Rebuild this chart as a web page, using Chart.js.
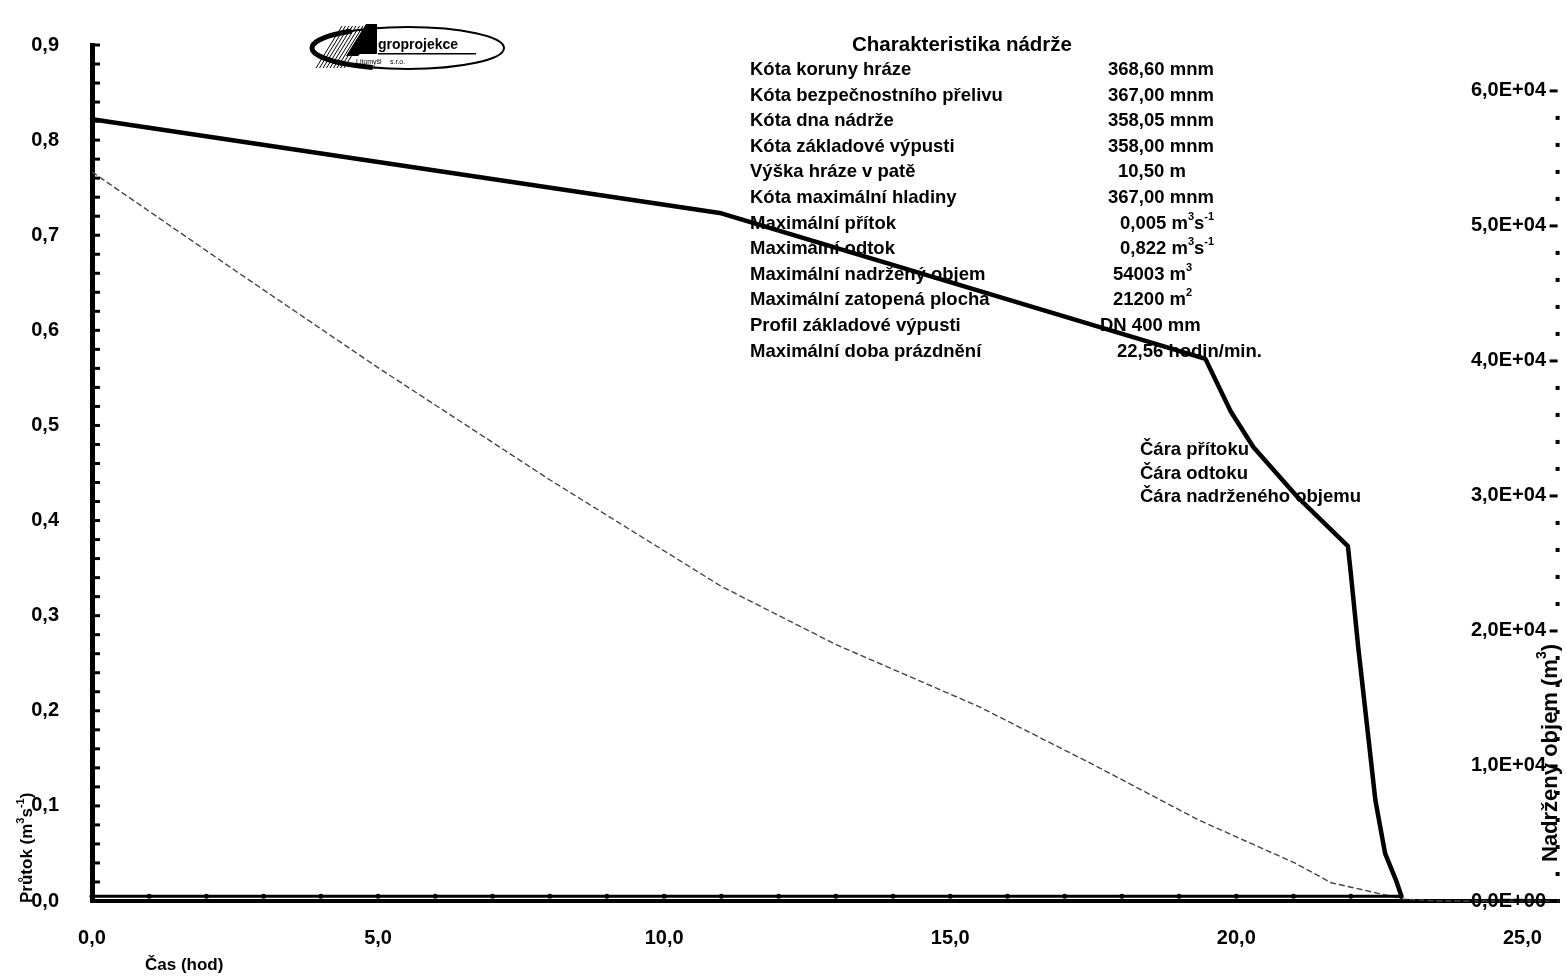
<!DOCTYPE html>
<html lang="cs">
<head>
<meta charset="utf-8">
<title>Charakteristika nádrže</title>
<script src="https://cdn.jsdelivr.net/npm/chart.js@4.4.1/dist/chart.umd.min.js"></script>
<style>
  html, body { margin: 0; padding: 0; background: #fff; }
  #obal { position: relative; width: 1567px; height: 976px; }
</style>
</head>
<body>
<div id="obal"><canvas id="graf"></canvas></div>
<script>
/* ============================ Data  ============================ */
// přítok (m3/s) - skoro nula, body po hodinách
const casPritok = [0, 1, 2, 3, 4, 5, 6, 7, 8, 9, 10, 11, 12, 13, 14, 15, 16, 17, 18, 19, 20, 21, 22, 22.88];
const pritok = [0.005, 0.005, 0.005, 0.005, 0.005, 0.005, 0.005, 0.005, 0.005, 0.005, 0.005, 0.005,
                0.005, 0.005, 0.005, 0.005, 0.005, 0.005, 0.005, 0.005, 0.005, 0.005, 0.005, 0.005];

// odtok (m3/s)
const casOdtok = [0, 11.0, 19.46, 19.9, 20.3, 21.08, 21.95, 22.0, 22.13, 22.3, 22.43, 22.6, 22.79, 22.88];
const odtok = [0.822, 0.723, 0.570, 0.515, 0.477, 0.424, 0.373, 0.345, 0.267, 0.176, 0.106, 0.050, 0.022, 0.006];

// nadržený objem (m3)
const casObjem = [0, 2.5, 5, 8, 11, 13, 15.5, 17.5, 19.34, 21.03, 21.66, 22.5, 22.91, 23.5, 25.65];
const objem = [54003, 46700, 39500, 31200, 23300, 19000, 14400, 10100, 6000, 2800, 1350, 550, 150, 0, 0];

// popisky os
const popiskyX = [0, 5, 10, 15, 20, 25];
const popiskyPrutok = [0, 0.1, 0.2, 0.3, 0.4, 0.5, 0.6, 0.7, 0.8, 0.9];
const popiskyObjem = [0, 10000, 20000, 30000, 40000, 50000, 60000];

// tabulka charakteristik
const nazvy = [
    "Kóta koruny hráze", "Kóta bezpečnostního přelivu", "Kóta dna nádrže", "Kóta základové výpusti",
    "Výška hráze v patě", "Kóta maximální hladiny", "Maximální přítok", "Maximální odtok",
    "Maximální nadržený objem", "Maximální zatopená plocha", "Profil základové výpusti", "Maximální doba prázdnění",
];
const hodnoty = [
    [["368,60 mnm"]], [["367,00 mnm"]], [["358,05 mnm"]], [["358,00 mnm"]],
    [["10,50 m"]], [["367,00 mnm"]],
    [["0,005 m"], ["3", 1], ["s"], ["-1", 1]],
    [["0,822 m"], ["3", 1], ["s"], ["-1", 1]],
    [["54003 m"], ["3", 1]],
    [["21200 m"], ["2", 1]],
    [["DN 400 mm"]], [["22,56 hodin/min."]],
];
const legenda = ["Čára přítoku", "Čára odtoku", "Čára nadrženého objemu"];

/* ============================ Pomocné  ============================ */
const PISMO = '"Liberation Sans", Arial, Helvetica, sans-serif';
const body = (xs, ys) => xs.map((x, i) => ({ x: x, y: ys[i] }));
const carka = (v) => v.toFixed(1).replace(".", ",");
const exp = (v) => {
    if (v === 0) return "0,0E+00";
    const e = Math.floor(Math.log10(v));
    return carka(v / Math.pow(10, e)) + "E+" + String(e).padStart(2, "0");
};

// text s horními indexy: casti = [[text, jeHorni], ...]
function textSIndexy(ctx, casti, x, y, vel) {
    let px = x;
    casti.forEach((c) => {
        const horni = c[1] === 1;
        ctx.font = "bold " + (horni ? Math.round(vel * 0.62) : vel) + "px " + PISMO;
        ctx.fillText(c[0], px, horni ? y - vel * 0.38 : y);
        px += ctx.measureText(c[0]).width;
    });
}

/* ============================ Popisky (plugin)  ============================ */
const popisky = {
    id: "popisky",
    afterDraw(chart) {
        const ctx = chart.ctx;
        const sx = chart.scales.x, sy = chart.scales.y, sy1 = chart.scales.y1;
        ctx.save();
        ctx.fillStyle = "#000";
        ctx.strokeStyle = "#000";

        // ticky leve osy (dovnitr)
        ctx.lineWidth = 3;
        for (let i = 1; i <= 45; i++) {
            const py = sy.getPixelForValue(i * 0.02);
            ctx.beginPath();
            ctx.moveTo(sx.left, py);
            ctx.lineTo(sx.left + 8, py);
            ctx.stroke();
        }

        // prava osa - ticky a popisky
        for (let i = 0; i * 2000 <= 60000; i++) {
            const py = sy1.getPixelForValue(i * 2000);
            if (i % 5 === 0) {
                ctx.fillRect(sx.right - 10, py - 1.5, 8, 3);
            } else {
                ctx.fillRect(sx.right - 4, py - 2, 4, 4);
            }
        }
        ctx.textBaseline = "middle";
        ctx.textAlign = "right";
        ctx.font = "bold 20px " + PISMO;
        popiskyObjem.forEach((v) => {
            ctx.fillText(exp(v), 1546, sy1.getPixelForValue(v));
        });

        // nazvy os
        ctx.textAlign = "left";
        ctx.font = "bold 17px " + PISMO;
        ctx.fillText("Čas (hod)", 145, 965);

        ctx.save();
        ctx.translate(27, 903);
        ctx.rotate(-Math.PI / 2);
        textSIndexy(ctx, [["Průtok (m"], ["3", 1], ["s"], ["-1", 1], [")"]], 0, 0, 17);
        ctx.restore();

        ctx.save();
        ctx.translate(1551, 862);
        ctx.rotate(-Math.PI / 2);
        textSIndexy(ctx, [["Nadržený objem (m"], ["3", 1], [")"]], 0, 0, 22);
        ctx.restore();

        // tabulka
        ctx.font = "bold 20.5px " + PISMO;
        ctx.textAlign = "center";
        ctx.fillText("Charakteristika nádrže", 962, 45);
        ctx.textAlign = "left";
        const startHodnot = [1108, 1108, 1108, 1108, 1118, 1108, 1120, 1120, 1113, 1113, 1100, 1117];
        nazvy.forEach((n, i) => {
            const y = 70 + i * 25.6;
            ctx.font = "bold 18.5px " + PISMO;
            ctx.fillText(n, 750, y);
            textSIndexy(ctx, hodnoty[i], startHodnot[i], y, 18.5);
        });

        // legenda
        ctx.font = "bold 18.5px " + PISMO;
        legenda.forEach((t, i) => ctx.fillText(t, 1140, 450 + i * 23.5));

        // logo Agroprojekce
        ctx.lineWidth = 2;
        ctx.beginPath();
        ctx.ellipse(408, 48, 96, 21, 0, 0, Math.PI * 2);
        ctx.stroke();
        ctx.lineWidth = 5;
        ctx.beginPath();
        ctx.ellipse(408, 48, 96, 21, 0, Math.PI * 0.62, Math.PI * 1.3);
        ctx.stroke();
        ctx.lineWidth = 1;
        for (let i = 0; i < 9; i++) {
            ctx.beginPath();
            ctx.moveTo(316 + i * 3.5, 68);
            ctx.lineTo(342 + i * 3.5, 26);
            ctx.stroke();
        }
        ctx.beginPath();
        ctx.moveTo(346, 56);
        ctx.lineTo(366, 24);
        ctx.lineTo(377, 24);
        ctx.lineTo(377, 54);
        ctx.lineTo(360, 54);
        ctx.lineTo(358, 56);
        ctx.closePath();
        ctx.fill();
        ctx.font = "bold 14px " + PISMO;
        ctx.fillText("groprojekce", 378, 45);
        ctx.fillRect(378, 53, 98, 1.5);
        ctx.font = "7px " + PISMO;
        ctx.fillText("Litomyšl", 356, 62);
        ctx.fillText("s.r.o.", 390, 62);

        ctx.restore();
    },
};

/* ============================ Graf  ============================ */
const graf = new Chart(document.getElementById("graf"), {
    type: "line",
    data: {
        datasets: [
            {
                label: legenda[0],
                data: body(casPritok, pritok),
                yAxisID: "y",
                borderColor: "#000",
                borderWidth: 3,
                pointRadius: 2.5,
                pointBackgroundColor: "#000",
                pointBorderWidth: 0,
                clip: false,
            },
            {
                label: legenda[1],
                data: body(casOdtok, odtok),
                yAxisID: "y",
                borderColor: "#000",
                borderWidth: 4.5,
                borderJoinStyle: "round",
                borderCapStyle: "round",
                pointRadius: 0,
                tension: 0,
                clip: false,
            },
            {
                label: legenda[2],
                data: body(casObjem, objem),
                yAxisID: "y1",
                borderColor: "#444",
                borderWidth: 1.4,
                borderDash: [6, 3],
                pointRadius: 0,
                tension: 0,
                clip: false,
            },
        ],
    },
    options: {
        responsive: true,
        maintainAspectRatio: false,
        animation: false,
        layout: { padding: { top: 44, left: 0, right: 0, bottom: 0 } },
        plugins: {
            legend: { display: false },
            title: { display: false },
            tooltip: { enabled: false },
        },
        scales: {
            x: {
                type: "linear",
                position: "bottom",
                min: 0,
                max: 25.65,
                afterBuildTicks: (s) => { s.ticks = popiskyX.map((v) => ({ value: v })); },
                afterFit: (s) => { s.height = 75; },
                grid: { drawOnChartArea: false, drawTicks: false },
                border: { display: true, width: 4, color: "#000" },
                ticks: {
                    padding: 25,
                    color: "#000",
                    font: { family: PISMO, size: 20, weight: "bold" },
                    callback: (v) => carka(v),
                },
            },
            y: {
                type: "linear",
                position: "left",
                min: 0,
                max: 0.9,
                afterBuildTicks: (s) => { s.ticks = popiskyPrutok.map((v) => ({ value: v })); },
                afterFit: (s) => { s.width = 92; },
                grid: { drawOnChartArea: false, drawTicks: false },
                border: { display: true, width: 5, color: "#000" },
                ticks: {
                    padding: 33,
                    color: "#000",
                    font: { family: PISMO, size: 20, weight: "bold" },
                    callback: (v) => carka(v),
                },
            },
            y1: {
                type: "linear",
                position: "right",
                min: 0,
                max: 63400,
                afterFit: (s) => { s.width = 5; },
                grid: { display: false },
                border: { display: false },
                ticks: { display: false },
            },
        },
    },
    plugins: [popisky],
});
</script>
</body>
</html>
